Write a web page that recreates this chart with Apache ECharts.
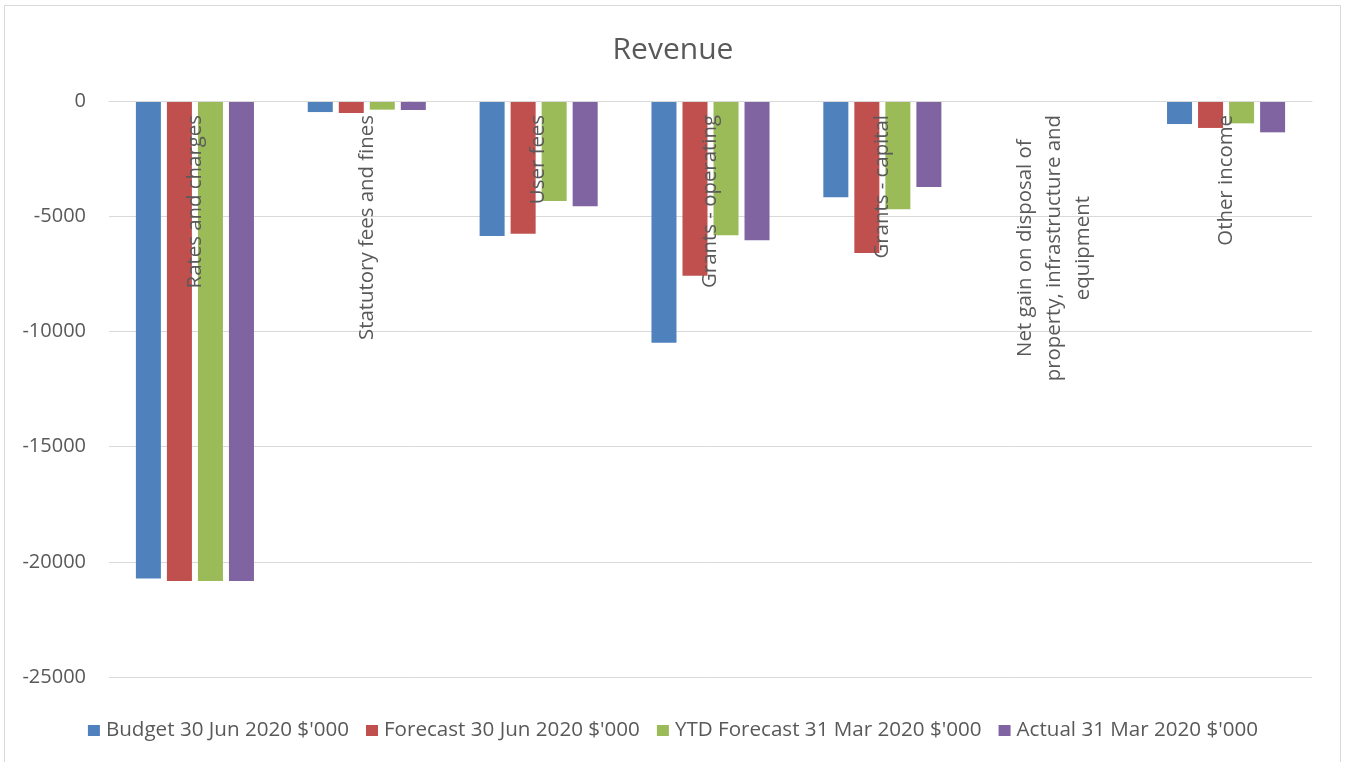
<!DOCTYPE html>
<html>
<head>
<meta charset="utf-8">
<script src="https://cdn.jsdelivr.net/npm/echarts@6/dist/echarts.min.js"></script>
<style>
html,body{margin:0;padding:0;background:#fff;}
#frame{position:absolute;left:4px;top:5px;width:1337px;height:770px;border:1px solid #D9D9D9;box-sizing:border-box;}
#chart{width:1346px;height:762px;position:absolute;left:0;top:0;}
</style>
</head>
<body>
<div id="frame"></div>
<div id="chart"></div>
<script>
const categories = [
  "Rates and charges",
  "Statutory fees and fines",
  "User fees",
  "Grants - operating",
  "Grants - capital",
  "Net gain on disposal of\nproperty, infrastructure and\nequipment",
  "Other income"
];
const seriesNames = [
  "Budget 30 Jun 2020 $'000",
  "Forecast 30 Jun 2020 $'000",
  "YTD Forecast 31 Mar 2020 $'000",
  "Actual 31 Mar 2020 $'000"
];
const budget   = [-20730, -480, -5860, -10490, -4180, 0, -1000];
const forecast = [-20830, -520, -5760, -7580, -6600, 0, -1170];
const ytd      = [-20830, -375, -4340, -5830, -4700, 0, -970];
const actual   = [-20830, -390, -4570, -6040, -3735, 0, -1360];
const yTicks = { min: -25000, max: 0, interval: 5000 };
const colors = ["#4F81BD", "#C0504D", "#9BBB59", "#8064A2"];

const FONT = "'Open Sans', 'Noto Sans', sans-serif";
const TXT = '#595959';
const chart = echarts.init(document.getElementById('chart'));
const dataSets = [budget, forecast, ytd, actual];
chart.setOption({
  animation: false,
  color: colors,
  title: {
    text: 'Revenue', left: 'center', top: 30,
    textStyle: { fontFamily: FONT, fontSize: 30, fontWeight: 'normal', color: TXT }
  },
  legend: {
    top: 715, left: 'center', itemWidth: 12, itemHeight: 11, itemGap: 17,
    icon: 'rect',
    textStyle: { fontFamily: FONT, fontSize: 20.6, color: TXT, padding: [0, 0, 0, 1] },
    data: seriesNames
  },
  grid: { left: 109, right: 34, top: 101, bottom: 85, containLabel: false },
  xAxis: {
    type: 'category', position: 'top', data: categories,
    axisLine: { show: true, lineStyle: { color: '#D9D9D9', width: 1 } },
    axisTick: { show: false },
    axisLabel: {
      inside: true, rotate: 90, margin: 14, interval: 0,
      fontFamily: FONT, fontSize: 20.4, color: TXT,
      formatter: function (v) {
        return v.split('\n').map(s => '{c|' + s + '}').join('\n');
      },
      rich: { c: { align: 'center', fontFamily: FONT, fontSize: 20.4, color: TXT, lineHeight: 29 } }
    },
    z: 10
  },
  yAxis: {
    type: 'value', min: yTicks.min, max: yTicks.max, interval: yTicks.interval,
    axisLine: { show: false }, axisTick: { show: false },
    axisLabel: { fontFamily: FONT, fontSize: 20, color: TXT, margin: 23, formatter: v => String(v) },
    splitLine: { lineStyle: { color: '#D9D9D9', width: 1 } }
  },
  series: seriesNames.map((n, i) => ({
    name: n, type: 'bar', data: dataSets[i],
    barGap: '24%', barCategoryGap: '31.3%',
    itemStyle: { color: colors[i] }
  }))
});
</script>
</body>
</html>
